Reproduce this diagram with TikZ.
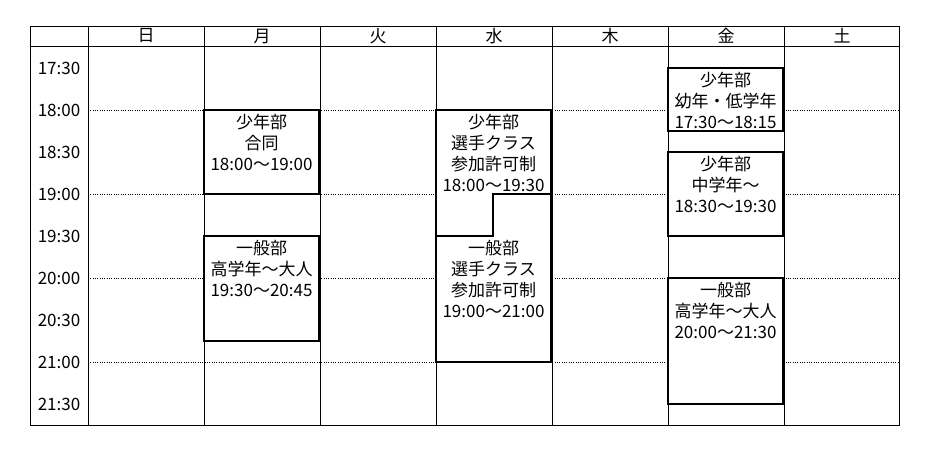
\documentclass[tikz,border=0pt]{standalone}
\usepackage{fontspec}
\setmainfont{Noto Sans CJK JP}
\def\gridline{\draw[line width=0.75pt]}
\def\hourline{\draw[line width=0.75pt,densely dotted]}
\def\slotbox{\draw[line width=1.5pt,fill=white]}
\tikzset{
  daytext/.style={font=\fontsize{12.75}{15.75}\selectfont,inner sep=0pt},
  slottext/.style={anchor=north,align=center,font=\fontsize{12.75}{15.75}\selectfont,inner sep=0pt}
}

\begin{document}
\begin{tikzpicture}[x=0.75pt,y=-0.75pt]
\useasboundingbox[fill=white] (0,0) rectangle (931,450);
% hour lines
\foreach \y in {110,194,278,362}
  \hourline (88,\y) -- (899,\y);
% table
\gridline (30,26) rectangle (899,425);
\gridline (30,46) -- (899,46);
\foreach \x in {88,204,320,436,552,668,784}
  \gridline (\x,26) -- (\x,425);
% day names
\foreach \x/\d/\n in {146/日/sun,262/月/mon,378/火/tue,494/水/wed,610/木/thu,726/金/fri,842/土/sat}
  \node[daytext] (\n) at (\x,36) {\d};
% times
\foreach \y/\t [count=\i] in {68/17:30,110/18:00,152/18:30,194/19:00,236/19:30,278/20:00,320/20:30,362/21:00,404/21:30}
  \node[daytext] (time\i) at (59,\y) {\t};
% monday
\slotbox (204,110) rectangle (319,194);
\node[slottext] (monjr) at (261.5,113.5) {少年部\\合同\\18:00～19:00};
\slotbox (204,236) rectangle (319,341);
\node[slottext] (monsr) at (261.5,239.5) {一般部\\高学年～大人\\19:30～20:45};
% wednesday
\slotbox (436,110) rectangle (551,362);
\draw[line width=1.5pt] (436,236) -- (493,236) -- (493,194) -- (551,194);
\node[slottext] (wedjr) at (493.5,113.5) {少年部\\選手クラス\\参加許可制\\18:00～19:30};
\node[slottext] (wedsr) at (493.5,239.5) {一般部\\選手クラス\\参加許可制\\19:00～21:00};
% friday
\slotbox (668,68) rectangle (783,131);
\node[slottext] (frikid) at (725.5,71.5) {少年部\\幼年・低学年\\17:30～18:15};
\slotbox (668,152) rectangle (783,236);
\node[slottext] (frijr) at (725.5,155.5) {少年部\\中学年～\\18:30～19:30};
\slotbox (668,278) rectangle (783,404);
\node[slottext] (frisr) at (725.5,281.5) {一般部\\高学年～大人\\20:00～21:30};
\end{tikzpicture}
\end{document}
